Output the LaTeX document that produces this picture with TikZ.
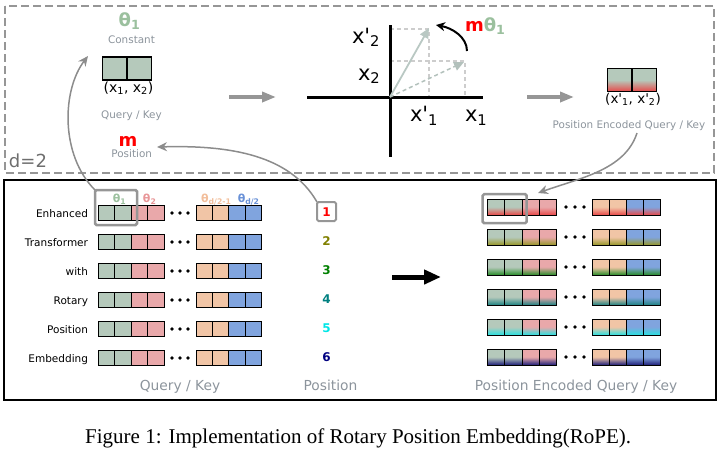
\documentclass[tikz,border=0pt]{standalone}
\usepackage{fontspec}
\setmainfont{Liberation Serif}
\newfontfamily\dv{DejaVu Sans}
\usetikzlibrary{arrows.meta}
\newcommand\myfs[1]{\fontsize{#1}{#1}\selectfont}
\definecolor{sage}{RGB}{181,201,187}
\definecolor{sageT}{RGB}{155,192,158}
\definecolor{pinkc}{RGB}{233,168,170}
\definecolor{pinkT}{RGB}{232,150,152}
\definecolor{peach}{RGB}{241,197,166}
\definecolor{peachT}{RGB}{242,190,155}
\definecolor{bluec}{RGB}{128,164,222}
\definecolor{blueT}{RGB}{105,145,215}
\definecolor{txtgray}{RGB}{140,148,156}
\definecolor{dashgray}{RGB}{150,150,150}
\definecolor{connc}{RGB}{140,140,140}
\definecolor{guide}{RGB}{205,205,205}
\definecolor{vecc}{RGB}{185,200,195}
\definecolor{dgray}{RGB}{110,110,110}
\definecolor{p2}{RGB}{128,128,0}
\definecolor{p3}{RGB}{0,128,0}
\definecolor{p4}{RGB}{0,128,128}
\definecolor{p5}{RGB}{0,230,230}
\definecolor{p6}{RGB}{0,0,128}
\definecolor{gr1}{RGB}{232,72,72}
\definecolor{gr2}{RGB}{150,150,40}
\definecolor{gr3}{RGB}{40,140,40}
\definecolor{gr4}{RGB}{30,130,130}
\definecolor{gr5}{RGB}{40,225,225}
\definecolor{gr6}{RGB}{30,30,120}
\begin{document}
\begin{tikzpicture}[x=1pt,y=-1pt,
  txt/.style={inner sep=0pt, outer sep=0pt, font=\dv},
  smallgray/.style={txt, font=\dv\myfs{10.4}, text=txtgray, anchor=base},
  biggray/.style={txt, font=\dv\myfs{13.8}, text=txtgray, anchor=base},
  rowlbl/.style={txt, font=\dv\myfs{10.5}, anchor=base east},
  numst/.style={txt, font=\dv\bfseries\myfs{12}, anchor=base},
  hdr/.style={txt, font=\dv\bfseries\myfs{11}, anchor=base},
  axlbl/.style={txt, font=\dv\myfs{21}, anchor=base west},
  cellT/.style={draw=black, line width=1.2pt, inner sep=0pt, outer sep=0pt, minimum width=24.5pt, minimum height=23pt, anchor=west},
  cellL/.style={draw=black, line width=0.9pt, inner sep=0pt, outer sep=0pt, minimum width=16.3pt, minimum height=15pt, anchor=west},
  cellR/.style={draw=black, line width=0.9pt, inner sep=0pt, outer sep=0pt, minimum width=17.3pt, minimum height=16pt, anchor=west},
  hlbox/.style={draw=dashgray, line width=2.5pt, rounded corners=1.5pt, inner sep=0pt, outer sep=0pt},
  garrow/.style={draw=dashgray, line width=4pt, -{Triangle[length=14pt,width=10pt]}},
  gconn/.style={draw=connc, line width=1.5pt, -{Stealth[length=10pt,width=9pt]}},
  guideline/.style={draw=guide, line width=1.3pt, dash pattern=on 4pt off 3pt},
]
\useasboundingbox (0,0) rectangle (720,459);

% frames
\draw[dashgray, line width=2.6pt, dash pattern=on 8pt off 4pt] (5,6) rectangle (714,173);
\draw[black, line width=2pt] (4,180) rectangle (716,400);
\node[txt, font=\dv\myfs{18}, text=dgray, anchor=base west] (d2) at (9,167.5) {d=2};

% ---- top left
\node[txt, font=\dv\bfseries\myfs{18}, text=sageT, anchor=base] (th1) at (129.5,26.5) {θ\textsubscript{1}};
\node[smallgray] (const) at (131.5,43.5) {Constant};
\node[cellT, fill=sage] (q1) at (102.5,68.5) {};
\node[cellT, fill=sage] (q2) at (q1.east) {};
\node[txt, font=\dv\myfs{14}, anchor=base] (xx) at (128.5,92.5) {(x\textsubscript{1}, x\textsubscript{2})};
\node[smallgray] (qkT) at (131.5,118) {Query / Key};
\node[txt, font=\dv\bfseries\myfs{18}, text=red, anchor=base] (mT) at (128,146.5) {m};
\node[smallgray] (posT) at (131.7,157.5) {Position};

% arrow to rotation
\coordinate (a1s) at (229,97);
\coordinate (a1e) at (276,97);
\draw[garrow] (a1s) -- (a1e);

% ---- rotation plot
\coordinate (O) at (390,97);
\coordinate (xl) at (307,97);
\coordinate (xr) at (483,97);
\coordinate (yt) at (390,25);
\coordinate (yb) at (390,157);
\coordinate (v1) at (429,28);
\coordinate (v0) at (464,62);
\draw[guideline] (390,29) -- (429,29) -- (429,97);
\draw[guideline] (390,61) -- (465,61) -- (465,97);
\draw[black, line width=3pt] (xl) -- (xr);
\draw[black, line width=3pt] (yt) -- (yb);
\draw[vecc, line width=1.8pt, -{Triangle[length=10pt,width=9pt]}] (O) -- (v1);
\draw[vecc!90!gray, line width=1.5pt, dash pattern=on 4pt off 3pt, -{Triangle[length=10pt,width=9pt]}] (O) -- (v0);
\node[axlbl] (lx2p) at (352,43) {x'\textsubscript{2}};
\node[axlbl] (lx2) at (358,80) {x\textsubscript{2}};
\node[axlbl] (lx1p) at (410,121.5) {x'\textsubscript{1}};
\node[axlbl] (lx1) at (465,121.5) {x\textsubscript{1}};
\coordinate (rs) at (467,51);
\coordinate (re) at (436,25);
\draw[black, line width=2pt, -{Stealth[length=9pt,width=9pt]}] (rs) .. controls (467,37) and (452,28) .. (re);
\node[txt, font=\dv\bfseries\myfs{18}, anchor=base west] (mth) at (465,31.5) {\textcolor{red}{m}\textcolor{sageT}{θ\textsubscript{1}}};

% arrow to result
\coordinate (a2s) at (527,97);
\coordinate (a2e) at (574,97);
\draw[garrow] (a2s) -- (a2e);

% ---- top right
\node[cellT, top color=sage, bottom color=gr1, middle color=sage] (r1) at (607.5,80) {};
\node[cellT, top color=sage, bottom color=gr1, middle color=sage] (r2) at (r1.east) {};
\node[txt, font=\dv\myfs{13.5}, anchor=base] (xxp) at (633,103.5) {(x'\textsubscript{1}, x'\textsubscript{2})};
\node[smallgray] (peT) at (629,128) {Position Encoded Query / Key};

% ---- bottom left rows
\foreach \lbl [count=\i from 0] in {Enhanced,Transformer,with,Rotary,Position,Embedding}{
  \pgfmathsetmacro\yy{213+29*\i}
  \node[rowlbl] (lbl\i) at (88,\yy+4.5) {\lbl};
  \foreach \cc [count=\j from 0] in {sage,sage,pinkc,pinkc}{
    \node[cellL, fill=\cc] (L\i-a\j) at ({98.5+16.4*\j},\yy) {};
  }
  \foreach \cc [count=\j from 0] in {peach,peach,bluec,bluec}{
    \node[cellL, fill=\cc] (L\i-b\j) at ({196+16.4*\j},\yy) {};
  }
  \foreach \k in {0,1,2} \fill ({172+8*\k},\yy) circle (1.8pt);
}
\node[hdr, text=sageT] (h1) at (119.5,202.5) {θ\textsubscript{1}};
\node[hdr, text=pinkT] (h2) at (149.7,202.5) {θ\textsubscript{2}};
\node[hdr, text=peachT] (h3) at (216.3,202.5) {θ\textsubscript{d/2-1}};
\node[hdr, text=blueT] (h4) at (248.7,202.5) {θ\textsubscript{d/2}};
\node[hlbox, minimum width=42pt, minimum height=35pt] (hlL) at (116,207.5) {};
\node[biggray] (qkB) at (180,390) {Query / Key};

% ---- positions
\foreach \n/\pc [count=\i from 0] in {1/red,2/p2,3/p3,4/p4,5/p5,6/p6}{
  \node[numst, text=\pc] (n\n) at (326.5,{212+29*\i+4}) {\n};
}
\node[hlbox, line width=2pt, minimum width=19pt, minimum height=19pt] (pbox) at (326.5,211.5) {};
\node[biggray] (posB) at (330.5,390.5) {Position};

% black arrow
\coordinate (ba1) at (392,277);
\coordinate (ba2) at (441,277);
\draw[black, line width=5pt, -{Triangle[length=17pt,width=14pt]}] (ba1) -- (ba2);

% ---- bottom right rows
\foreach \pc [count=\i from 0] in {gr1,gr2,gr3,gr4,gr5,gr6}{
  \pgfmathsetmacro\yy{207+30*\i}
  \foreach \cc [count=\j from 0] in {sage,sage,pinkc,pinkc}{
    \node[cellR, top color=\cc, bottom color=\pc, middle color=\cc] (R\i-a\j) at ({487.3+17.35*\j},\yy) {};
  }
  \foreach \cc [count=\j from 0] in {peach,peach,bluec,bluec}{
    \node[cellR, top color=\cc, bottom color=\pc, middle color=\cc] (R\i-b\j) at ({592+17*\j},\yy) {};
  }
  \foreach \k in {0,1,2} \fill ({566+9*\k},\yy) circle (1.8pt);
}
\node[hlbox, minimum width=44pt, minimum height=29pt] (hlR) at (504.7,208.7) {};
\node[biggray] (peB) at (576,390) {Position Encoded Query / Key};

% ---- curved connectors
\coordinate (tipC) at (88,56);
\coordinate (tipM) at (157,147);
\coordinate (c3s) at (637,133);
\coordinate (tipR) at (538,193);
\draw[gconn] (hlL.north west) .. controls (60,155) and (62,90) .. (tipC);
\draw[gconn] (pbox.north west) .. controls (290,155) and (230,145) .. (tipM);
\draw[gconn] (c3s) .. controls (625,170) and (580,178) .. (tipR);

% caption
\node[anchor=base west, inner sep=0pt, font=\myfs{21}] (cap) at (85,443) {Figure 1: Implementation of Rotary Position Embedding(RoPE).};
\end{tikzpicture}
\end{document}
